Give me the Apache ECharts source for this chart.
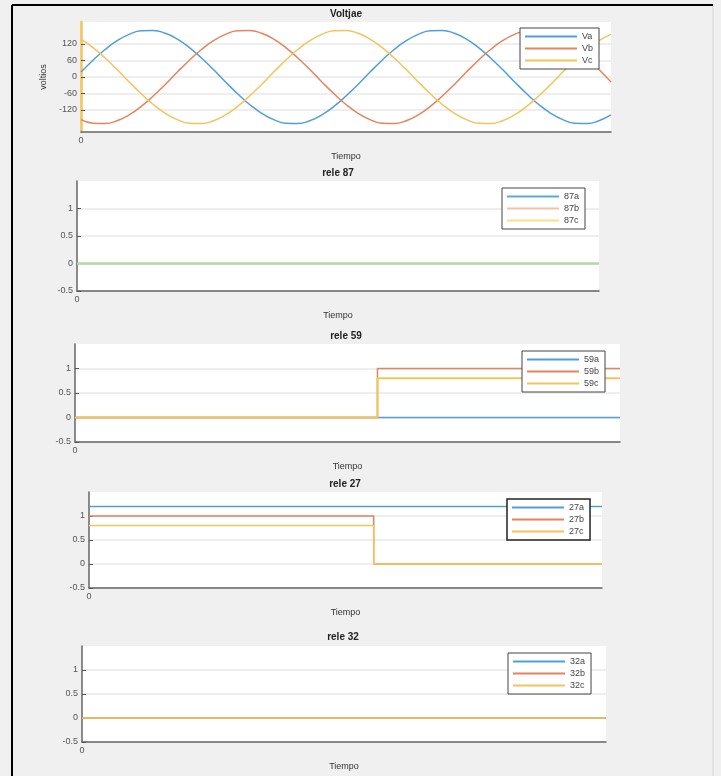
<!DOCTYPE html>
<html>
<head>
<meta charset="utf-8">
<script src="https://cdn.jsdelivr.net/npm/echarts@6/dist/echarts.min.js"></script>
<style>
  html, body { margin: 0; padding: 0; background: #f0f0f0; }
  #main { width: 721px; height: 776px; }
</style>
</head>
<body>
<div id="main"></div>
<script>
// Voltaje: tiempo (grados electricos) y tensiones de fase
const tiempoVolt = [0, 15, 30, 45, 60, 75, 90, 105, 120, 135, 150, 165, 180, 195, 210, 225, 240, 255, 270, 285, 300, 315, 330, 345,
  360, 375, 390, 405, 420, 435, 450, 465, 480, 495, 510, 525, 540, 555, 570, 585, 600, 615, 630, 645, 660];
const va = [18, 61, 100, 132, 155, 168, 169, 159, 138, 107, 69, 27, -18, -61, -100, -132, -155, -168, -169, -159, -138, -107, -69, -27,
  18, 61, 100, 132, 155, 168, 169, 159, 138, 107, 69, 27, -18, -61, -100, -132, -155, -168, -169, -159, -138];
const vb = [-155, -168, -169, -159, -138, -107, -69, -27, 18, 61, 100, 132, 155, 168, 169, 159, 138, 107, 69, 27, -18, -61, -100, -132,
  -155, -168, -169, -159, -138, -107, -69, -27, 18, 61, 100, 132, 155, 168, 169, 159, 138, 107, 69, 27, -18];
const vc = [138, 107, 69, 27, -18, -61, -100, -132, -155, -168, -169, -159, -138, -107, -69, -27, 18, 61, 100, 132, 155, 168, 169, 159,
  138, 107, 69, 27, -18, -61, -100, -132, -155, -168, -169, -159, -138, -107, -69, -27, 18, 61, 100, 132, 155];
const voltTicks = [-120, -60, 0, 60, 120];

// Reles: tiempo (normalizado) y estados
const tiempoRele = [0, 55.5, 55.5, 100];
const rele87a = [0, 0, 0, 0];
const rele87b = [0, 0, 0, 0];
const rele87c = [0, 0, 0, 0];
const rele59a = [0, 0, 0, 0];
const rele59b = [0, 0, 1, 1];
const rele59c = [0, 0, 0.8, 0.8];
const rele27a = [1.2, 1.2, 1.2, 1.2];
const rele27b = [1, 1, 0, 0];
const rele27c = [0.8, 0.8, 0, 0];
const rele32a = [0, 0, 0, 0];
const rele32b = [0, 0, 0, 0];
const rele32c = [0, 0, 0, 0];
const releTicks = [-0.5, 0, 0.5, 1];

const colA = '#509fd8', colB = '#e6835f', colC = '#f1c55a';
const font = 'Liberation Sans, Arial, sans-serif';

// posicion de cada subplot: [left, top, width, height]
const grids = [
  [81, 22, 530, 110],
  [77, 181, 522, 110],
  [75, 344, 545, 98],
  [89, 492, 513, 96],
  [82, 646, 524, 96]
];
const titulos = ['Voltjae', 'rele 87', 'rele 59', 'rele 27', 'rele 32'];
const tituloPos = [[346, 9], [338, 168], [346, 331], [345, 479], [343, 632]];
const legendPos = [[520, 28], [502, 188], [522, 351], [507, 499], [508, 653]];

function pares(t, y) {
  return t.map((x, i) => [x, y[i]]);
}

function linea(name, idx, t, y, color, extra) {
  return Object.assign({
    name: name,
    type: 'line',
    xAxisIndex: idx,
    yAxisIndex: idx,
    data: pares(t, y),
    symbol: 'none',
    animation: false,
    lineStyle: { color: color, width: 1.5 },
    itemStyle: { color: color }
  }, extra || {});
}

const myChart = echarts.init(document.getElementById('main'));

const option = {
  backgroundColor: '#f0f0f0',
  animation: false,
  title: titulos.map((t, i) => ({
    text: t,
    left: tituloPos[i][0],
    top: tituloPos[i][1],
    textAlign: 'center',
    padding: 0,
    textStyle: { fontSize: 10, fontWeight: 'bold', color: '#222', fontFamily: font }
  })),
  grid: grids.map(g => ({
    left: g[0], top: g[1], width: g[2], height: g[3],
    show: true, backgroundColor: '#ffffff', borderWidth: 0
  })),
  legend: legendPos.map((p, i) => ({
    left: p[0],
    top: p[1],
    orient: 'vertical',
    data: i === 0 ? ['Va', 'Vb', 'Vc'] : [0, 1, 2].map(k => titulos[i].slice(5) + 'abc'[k]),
    icon: 'rect',
    itemWidth: 52,
    itemHeight: 2,
    itemGap: 3,
    padding: [4, 6, 4, 5],
    backgroundColor: '#ffffff',
    borderColor: i === 3 ? '#222' : '#444',
    borderWidth: i === 3 ? 1.5 : 1,
    borderRadius: 0,
    textStyle: { fontSize: 9, color: '#444', fontFamily: font, lineHeight: 9 }
  })),
  xAxis: grids.map((g, i) => ({
    type: 'value',
    gridIndex: i,
    min: 0,
    max: i === 0 ? 660 : 100,
    name: 'Tiempo',
    nameLocation: 'middle',
    nameGap: 20,
    nameTextStyle: { fontSize: 9, color: '#333', fontFamily: font },
    axisLine: { show: true, onZero: false, lineStyle: { color: '#666', width: 1.5 } },
    axisTick: { show: false },
    splitLine: { show: false },
    axisLabel: { customValues: [0], fontSize: 9, color: '#555', margin: 4, fontFamily: font }
  })),
  yAxis: grids.map((g, i) => ({
    type: 'value',
    gridIndex: i,
    min: i === 0 ? -200 : -0.5,
    max: i === 0 ? 200 : 1.5,
    name: i === 0 ? 'voltios' : '',
    nameLocation: 'middle',
    nameGap: 33,
    nameTextStyle: { fontSize: 9, color: '#333', fontFamily: font },
    axisLine: { show: true, onZero: false, lineStyle: { color: i === 0 ? colC : '#666', width: i === 0 ? 2.5 : 1.5 } },
    axisTick: { show: true, inside: true, length: 4, customValues: i === 0 ? voltTicks : releTicks, lineStyle: { color: '#555' } },
    axisLabel: { customValues: i === 0 ? voltTicks : releTicks, fontSize: 9, color: '#555', margin: 4, fontFamily: font },
    splitLine: { show: true, lineStyle: { color: '#e8e8e8', width: 1.5 } }
  })),
  series: [
    linea('Va', 0, tiempoVolt, va, colA, { smooth: true }),
    linea('Vb', 0, tiempoVolt, vb, colB, { smooth: true }),
    linea('Vc', 0, tiempoVolt, vc, colC, { smooth: true }),
    linea('87a', 1, tiempoRele, rele87a, '#5aaae1', { lineStyle: { color: '#64b9e1', width: 2 } }),
    linea('87b', 1, tiempoRele, rele87b, '#f3c0aa', { lineStyle: { color: '#e6835f', width: 2, opacity: 0 } }),
    linea('87c', 1, tiempoRele, rele87c, '#f8e08a', { lineStyle: { color: '#f5eb6e', width: 2, opacity: 0.6 } }),
    linea('59a', 2, tiempoRele, rele59a, colA),
    linea('59b', 2, tiempoRele, rele59b, colB),
    linea('59c', 2, tiempoRele, rele59c, colC, { lineStyle: { color: colC, width: 2 } }),
    linea('27a', 3, tiempoRele, rele27a, colA),
    linea('27b', 3, tiempoRele, rele27b, colB),
    linea('27c', 3, tiempoRele, rele27c, colC),
    linea('32a', 4, tiempoRele, rele32a, colA),
    linea('32b', 4, tiempoRele, rele32b, colB),
    linea('32c', 4, tiempoRele, rele32c, colC)
  ],
  graphic: [
    { type: 'line', shape: { x1: 12, y1: 5, x2: 713, y2: 5 }, style: { stroke: '#000', lineWidth: 2 } },
    { type: 'line', shape: { x1: 12, y1: 5, x2: 12, y2: 776 }, style: { stroke: '#000', lineWidth: 2 } },
    { type: 'line', shape: { x1: 713, y1: 6, x2: 713, y2: 776 }, style: { stroke: '#d4d4d4', lineWidth: 1 } }
  ]
};

myChart.setOption(option);
</script>
</body>
</html>
